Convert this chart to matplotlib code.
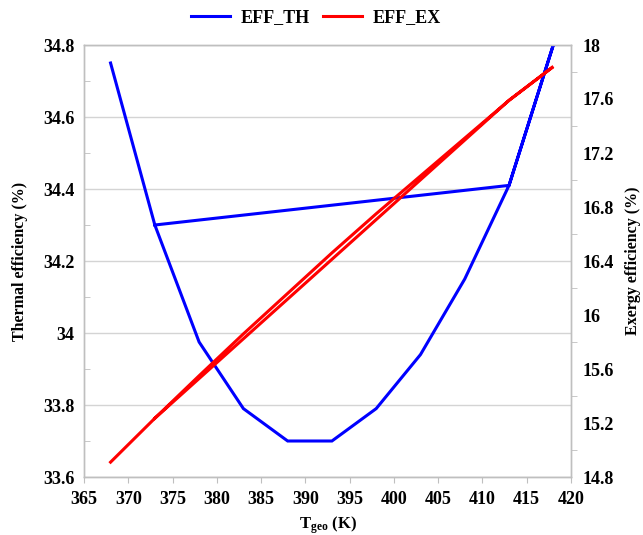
"""
Thermal and exergy efficiency vs. geothermal source temperature.
Dual-axis line chart, Excel-style look.
"""

import matplotlib
matplotlib.use("Agg")
import matplotlib.pyplot as plt
import matplotlib.ticker as ticker
import numpy as np

# ── Style ────────────────────────────────────────────────────────────────────
plt.rcParams.update({
    "font.family": "Liberation Serif",
    "font.weight": "bold",
    "axes.labelweight": "bold",
    "font.size": 12,
    "mathtext.fontset": "custom",
    "mathtext.rm": "Liberation Serif:bold",
    "mathtext.bf": "Liberation Serif:bold",
    "mathtext.it": "Liberation Serif:bold",
})

AXIS_GRAY = "#bfbfbf"
GRID_GRAY = "#d4d4d4"

# ── Data (the series retrace 418 → 413 → 373 at the end) ─
t_geo = [368, 373, 378, 383, 388, 393, 398, 403, 408, 413, 418, 413, 373]
eff_th = [34.75, 34.30, 33.975, 33.79, 33.70, 33.70, 33.79, 33.94, 34.15,
          34.41, 34.80, 34.41, 34.30]
eff_ex = [14.91, 15.235, 15.55, 15.86, 16.16, 16.46, 16.75, 17.03, 17.31,
          17.59, 17.84, 17.59, 15.235]

x_ticks = np.arange(365, 421, 5)
th_ticks = [33.6, 33.8, 34.0, 34.2, 34.4, 34.6, 34.8]
ex_ticks = [14.8, 15.2, 15.6, 16.0, 16.4, 16.8, 17.2, 17.6, 18.0]


def fmt_general(v, _pos=None):
    return f"{round(v, 2):g}"


fig = plt.figure(figsize=(6.43, 5.35), dpi=100)
ax = fig.add_axes([84 / 643, 1 - 477 / 535, (571 - 84) / 643, (477 - 45) / 535])
ax2 = ax.twinx()

ln_th, = ax.plot(t_geo, eff_th, color="#0000ff", lw=2.2, label="EFF_TH",
                 solid_joinstyle="miter", zorder=3)
ln_ex, = ax2.plot(t_geo, eff_ex, color="#ff0000", lw=2.2, label="EFF_EX",
                  solid_joinstyle="miter", zorder=3)

# left axis
ax.set_xlim(365, 420)
ax.set_ylim(33.6, 34.8)
ax.set_xticks(x_ticks)
ax.set_yticks(th_ticks)
ax.yaxis.set_major_formatter(ticker.FuncFormatter(fmt_general))
ax.yaxis.set_minor_locator(ticker.MultipleLocator(0.1))
ax.grid(axis="y", which="major", color=GRID_GRAY, lw=1.0)
ax.set_axisbelow(True)
ax.tick_params(axis="y", which="major", length=0, pad=7, labelsize=13)
ax.tick_params(axis="y", which="minor", direction="in", length=4,
               color=AXIS_GRAY)
ax.tick_params(axis="x", which="major", direction="out", length=4,
               color=AXIS_GRAY, pad=6, labelsize=13)
ax.set_ylabel("Thermal efficiency (%)", fontsize=11.5, labelpad=11)
ax.set_xlabel(r"$\mathbf{T_{geo}}$ (K)", fontsize=12, labelpad=5)

# right axis
ax2.set_ylim(14.8, 18.0)
ax2.set_yticks(ex_ticks)
ax2.yaxis.set_major_formatter(ticker.FuncFormatter(fmt_general))
ax2.yaxis.set_minor_locator(ticker.MultipleLocator(0.2))
ax2.tick_params(axis="y", which="major", length=0, pad=8, labelsize=13)
ax2.tick_params(axis="y", which="minor", direction="out", length=4,
                color=AXIS_GRAY)
ax2.set_ylabel("Exergy efficiency (%)", fontsize=11.5, labelpad=8)

for a in (ax, ax2):
    for sp in a.spines.values():
        sp.set_color(AXIS_GRAY)
        sp.set_linewidth(1.0)

fig.legend(handles=[ln_th, ln_ex], loc="center", ncol=2,
           bbox_to_anchor=(316 / 643, 1 - 18 / 535), frameon=False,
           fontsize=13, handlelength=2.15, columnspacing=0.7, handletextpad=0.6)

fig.savefig("out.png", dpi=100)
plt.close(fig)
